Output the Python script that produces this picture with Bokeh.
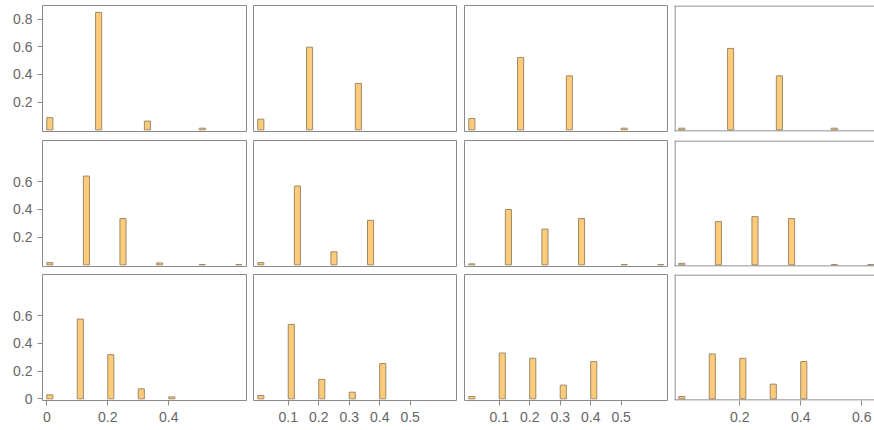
from bokeh.plotting import figure
from bokeh.layouts import column, row
from bokeh.models import FixedTicker, Span, NumeralTickFormatter
from bokeh.embed import file_html
from bokeh.resources import INLINE

# ---- data -------------------------------------------------------------
bin_width = 0.02
bins_row1 = [0.0, 0.16, 0.32, 0.50]
bins_row2 = [0.0, 0.12, 0.24, 0.36, 0.50, 0.62]
bins_row3 = [0.0, 0.10, 0.20, 0.30, 0.40]

row1_col1 = [0.088, 0.848, 0.063, 0.012]
row1_col2 = [0.077, 0.597, 0.335, 0.0]
row1_col3 = [0.082, 0.523, 0.390, 0.012]
row1_col4 = [0.012, 0.588, 0.390, 0.012]

row2_col1 = [0.016, 0.641, 0.334, 0.014, 0.002, 0.002]
row2_col2 = [0.016, 0.569, 0.094, 0.321, 0.0, 0.0]
row2_col3 = [0.007, 0.400, 0.258, 0.334, 0.002, 0.002]
row2_col4 = [0.011, 0.312, 0.348, 0.334, 0.002, 0.002]

row3_col1 = [0.029, 0.576, 0.319, 0.072, 0.014]
row3_col2 = [0.024, 0.537, 0.140, 0.048, 0.255]
row3_col3 = [0.017, 0.331, 0.293, 0.099, 0.269]
row3_col4 = [0.017, 0.324, 0.293, 0.106, 0.269]

y_ticks_row1 = [0.2, 0.4, 0.6, 0.8]
y_ticks_row2 = [0.2, 0.4, 0.6]
y_ticks_row3 = [0.0, 0.2, 0.4, 0.6]

x_ticks_col1 = [0.0, 0.2, 0.4]
x_ticks_col2 = [0.1, 0.2, 0.3, 0.4, 0.5]
x_ticks_col3 = [0.1, 0.2, 0.3, 0.4, 0.5]
x_ticks_col4 = [0.2, 0.4, 0.6]

# ---- styling / layout ---------------------------------------------------
FILL = "#fecb7a"
EDGE = "#9c8a68"
FRAME = "#8a8a8a"
SPAN_FRAME = "#6e6e6e"
TEXT = "#666666"
FONT = "Liberation Sans"

x_start = -0.014
x_ends = [0.655, 0.652, 0.652, 0.642]
y_start = -0.012
y_end = 0.898

col_widths = [253, 211, 210, 200]
col_left = [42, 0, 0, 0]
col_right = [7, 8, 7, 0]
row_heights = [140, 134, 156]
row_top = [5, 0, 0]
row_bottom = [9, 8, 30]
frame_h = 126

bins = [bins_row1, bins_row2, bins_row3]
values = [
    [row1_col1, row1_col2, row1_col3, row1_col4],
    [row2_col1, row2_col2, row2_col3, row2_col4],
    [row3_col1, row3_col2, row3_col3, row3_col4],
]
y_ticks = [y_ticks_row1, y_ticks_row2, y_ticks_row3]
x_ticks = [x_ticks_col1, x_ticks_col2, x_ticks_col3, x_ticks_col4]


def style_axis(ax, ticks, standoff):
    ax.ticker = FixedTicker(ticks=ticks)
    ax.formatter = NumeralTickFormatter(format="0.[0]")
    ax.axis_line_color = None
    ax.major_tick_out = 5
    ax.major_tick_in = 0
    ax.minor_tick_line_color = None
    ax.major_tick_line_color = FRAME
    ax.major_label_text_color = TEXT
    ax.major_label_text_font = FONT
    ax.major_label_text_font_size = "14px"
    ax.major_label_standoff = standoff


rows = []
for r in range(3):
    figs = []
    for c in range(4):
        p = figure(width=col_widths[c], height=row_heights[r],
                   x_range=(x_start, x_ends[c]), y_range=(y_start, y_end),
                   output_backend="svg", toolbar_location=None,
                   min_border_left=col_left[c], min_border_right=col_right[c],
                   min_border_top=row_top[r], min_border_bottom=row_bottom[r])
        p.grid.visible = False
        p.background_fill_color = "white"
        p.border_fill_color = "white"
        if c == 3:
            # right edge of this panel is cut off by the window, draw three sides only
            p.outline_line_color = None
            fw = col_widths[c] - col_left[c] - col_right[c]
            dx = 0.5 * (x_ends[c] - x_start) / fw
            dy = 0.5 * (y_end - y_start) / frame_h
            for loc, dim in [(x_start + dx, "height"), (y_start + dy, "width"), (y_end - dy, "width")]:
                p.add_layout(Span(location=loc, dimension=dim, line_color=SPAN_FRAME, line_width=1))
        else:
            p.outline_line_color = FRAME
            p.outline_line_width = 1

        lefts, rights, tops = [], [], []
        for b, v in zip(bins[r], values[r][c]):
            if v > 0:
                lefts.append(b)
                rights.append(b + bin_width)
                tops.append(v)
        p.quad(left=lefts, right=rights, bottom=0, top=tops,
               fill_color=FILL, line_color=EDGE, line_width=1)

        if c == 0:
            style_axis(p.yaxis[0], y_ticks[r], 5)
        else:
            p.yaxis.visible = False

        if r == 2:
            style_axis(p.xaxis[0], x_ticks[c], 6)
        else:
            p.xaxis.visible = False
        figs.append(p)
    rows.append(row(*figs, spacing=0))

layout = column(*rows, spacing=0)

open("out.html", "w").write(file_html(layout, INLINE))
